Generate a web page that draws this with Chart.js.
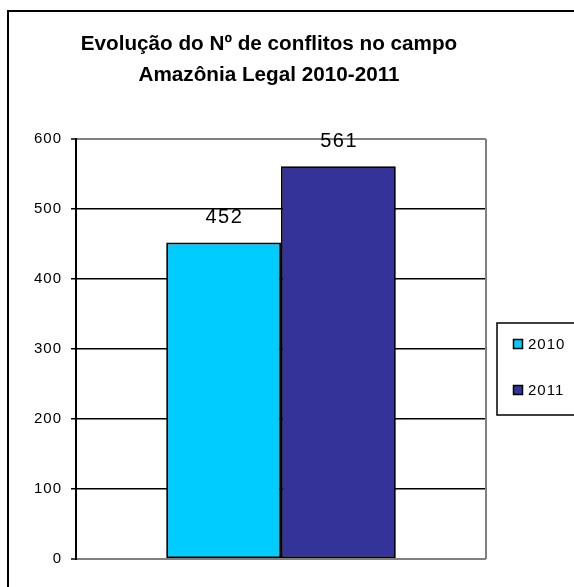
<!DOCTYPE html>
<html>
<head>
<meta charset="utf-8">
<script src="https://cdn.jsdelivr.net/npm/chart.js@4/dist/chart.umd.min.js"></script>
<style>
  html, body { margin: 0; padding: 0; background: #fff; }
  #wrap { width: 574px; height: 587px; position: relative; }
</style>
</head>
<body>
<div id="wrap"><canvas id="grafico"></canvas></div>
<script>
const titulo = ['Evolução do Nº de conflitos no campo', 'Amazônia Legal 2010-2011'];
const categorias = [''];
const anos = ['2010', '2011'];
const conflitos2010 = [452];
const conflitos2011 = [561];
const cores = ['#00CCFF', '#333399'];
const fonte = '"Liberation Sans", Arial, sans-serif';

// moldura externa, titulo, rotulos e legenda com caixa
const extras = {
    id: 'extras',
    beforeDraw(chart) {
        const ctx = chart.ctx;
        ctx.save();
        ctx.fillStyle = '#fff';
        ctx.fillRect(0, 0, chart.width, chart.height);
        ctx.strokeStyle = '#000';
        ctx.lineWidth = 2;
        ctx.strokeRect(8, 11, 700, 700);
        ctx.fillStyle = '#000';
        ctx.font = 'bold 20.7px ' + fonte;
        ctx.textAlign = 'center';
        ctx.textBaseline = 'alphabetic';
        ctx.fillText(titulo[0], 269, 50);
        ctx.fillText(titulo[1], 269, 81);
        ctx.restore();
        ctx.letterSpacing = '1px';
    },
    beforeDatasetsDraw(chart) {
        chart.ctx.letterSpacing = '0px';
    },
    afterDraw(chart) {
        const ctx = chart.ctx;
        const a = chart.chartArea;
        ctx.save();
        // borda direita cinza da area de plotagem
        ctx.strokeStyle = '#808080';
        ctx.lineWidth = 2;
        ctx.beginPath();
        ctx.moveTo(a.right, a.top);
        ctx.lineTo(a.right, a.bottom);
        ctx.stroke();

        // valores sobre as barras
        ctx.fillStyle = '#000';
        ctx.font = '20px ' + fonte;
        ctx.letterSpacing = '1.5px';
        ctx.textAlign = 'center';
        ctx.textBaseline = 'middle';
        chart.data.datasets.forEach((ds, i) => {
            chart.getDatasetMeta(i).data.forEach((bar, j) => {
                ctx.fillText(String(ds.data[j]), bar.x + 0.75, bar.y - 25);
            });
        });

        // legenda
        ctx.letterSpacing = '1px';
        ctx.strokeStyle = '#000';
        ctx.lineWidth = 1.5;
        ctx.strokeRect(497, 323, 120, 92);
        ctx.font = '15px ' + fonte;
        ctx.textAlign = 'left';
        const ys = [344, 390];
        chart.data.datasets.forEach((ds, i) => {
            ctx.fillStyle = ds.backgroundColor;
            ctx.fillRect(513.5, ys[i] - 4.5, 9, 9);
            ctx.strokeRect(513.5, ys[i] - 4.5, 9, 9);
            ctx.fillStyle = '#000';
            ctx.fillText(ds.label, 528, ys[i] + 1);
        });
        ctx.restore();
        ctx.letterSpacing = '0px';
    }
};

new Chart(document.getElementById('grafico'), {
    type: 'bar',
    data: {
        labels: categorias,
        datasets: [{
            label: anos[0],
            data: conflitos2010,
            backgroundColor: cores[0],
            borderColor: '#000',
            borderWidth: 1.8,
            borderSkipped: false
        }, {
            label: anos[1],
            data: conflitos2011,
            backgroundColor: cores[1],
            borderColor: '#000',
            borderWidth: 1.8,
            borderSkipped: false
        }]
    },
    options: {
        responsive: true,
        maintainAspectRatio: false,
        animation: false,
        categoryPercentage: 0.56,
        barPercentage: 1,
        layout: { padding: { top: 139, right: 88, bottom: 28, left: 0 } },
        plugins: {
            legend: { display: false },
            title: { display: false },
            tooltip: { enabled: false }
        },
        scales: {
            x: { display: false },
            y: {
                min: 0,
                max: 600,
                ticks: {
                    stepSize: 100,
                    color: '#000',
                    padding: 9,
                    font: { family: fonte, size: 15 }
                },
                grid: {
                    color: c => (c.tick && (c.tick.value === 0 || c.tick.value === 600)) ? '#808080' : '#000',
                    lineWidth: c => (c.tick && (c.tick.value === 0 || c.tick.value === 600)) ? 2 : 1.5,
                    tickColor: '#000',
                    tickLength: 5,
                    tickWidth: 1.5
                },
                border: { display: true, color: '#000', width: 2 },
                afterFit(scale) { scale.width = 76; }
            }
        }
    },
    plugins: [extras]
});
</script>
</body>
</html>
